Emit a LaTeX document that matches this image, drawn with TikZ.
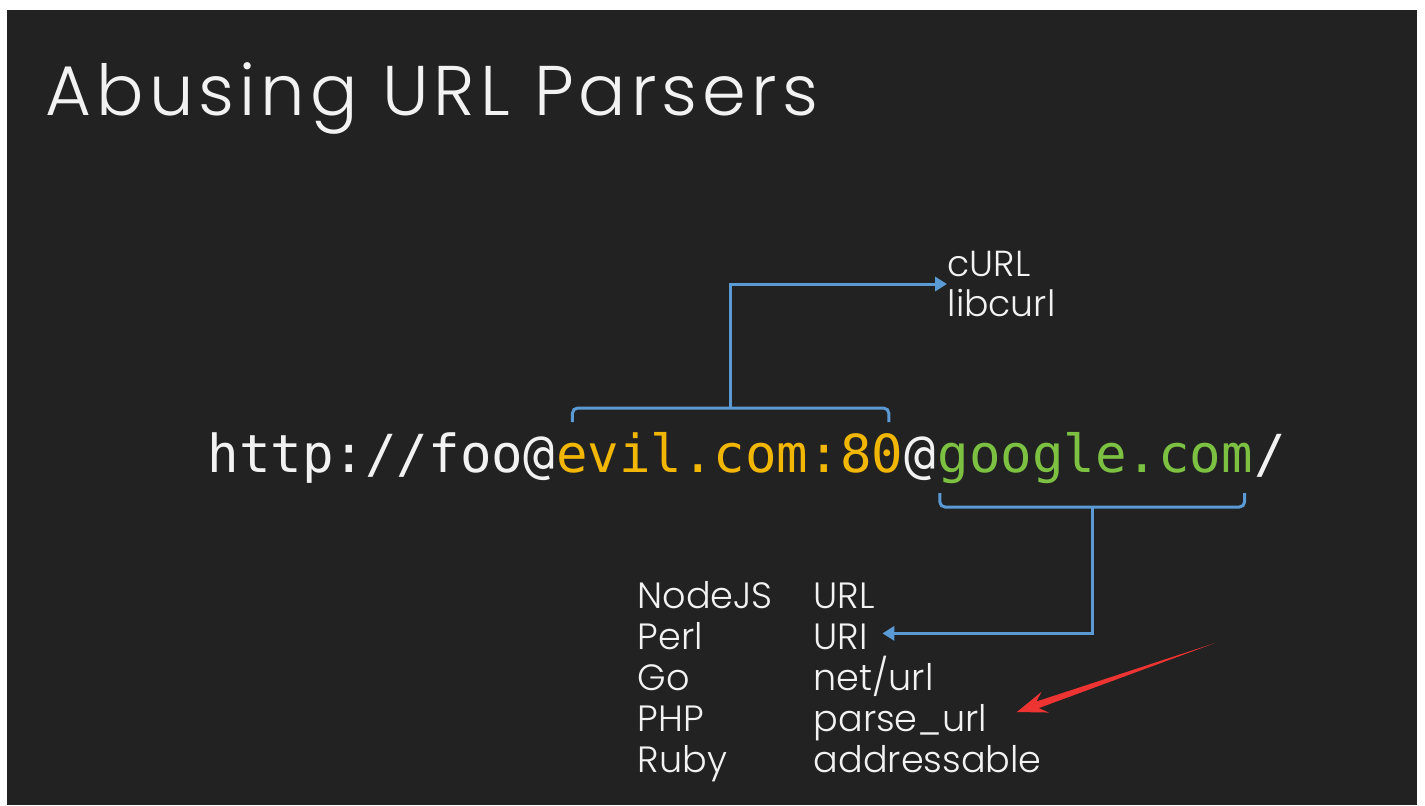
\documentclass[tikz,border=0pt]{standalone}
\usepackage{fontspec}
\IfFontExistsTF{Poppins Light}{\setmainfont{Poppins Light}}{\setmainfont{Poppins}}
\setmonofont{DejaVu Sans Mono}
\usetikzlibrary{calc,arrows.meta}
\definecolor{slidebg}{HTML}{222222}
\definecolor{slidetext}{HTML}{F2F2F2}
\definecolor{evilorange}{HTML}{F2B705}
\definecolor{googlegreen}{HTML}{7CC142}
\definecolor{linkblue}{HTML}{5B9BD5}
\definecolor{markred}{HTML}{EE3333}
\begin{document}
\begin{tikzpicture}[x=0.01cm,y=-0.01cm,
  every node/.style={inner sep=0pt, text=slidetext},
  urlpart/.style={anchor=base west, font=\ttfamily\fontsize{14.9}{18}\selectfont},
  item/.style={anchor=base west, font=\fontsize{10.4}{12}\selectfont},
  bracket/.style={draw=linkblue, line width=0.85pt, rounded corners=1.5pt},
  link/.style={draw=linkblue, line width=0.85pt, -{Triangle[length=3.4pt,width=4pt]}}]
\useasboundingbox (0,0) rectangle (1425,805);
\fill[white] (0,0) rectangle (1425,805);
\fill[slidebg] (7,10) rectangle (1417,805);
% title
\node[anchor=base west, font=\fontsize{20}{24}\selectfont\addfontfeatures{LetterSpace=7.2}] (title) at (45,115) {Abusing URL Parsers};
% url
\node[urlpart] (proto) at (207,472) {http://foo@};
\node[urlpart, text=evilorange] (evil) at (proto.base east) {evil.com:80};
\node[urlpart] (at) at (evil.base east) {@};
\node[urlpart, text=googlegreen] (google) at (at.base east) {google.com};
\node[urlpart] (slash) at (google.base east) {/};
% parsers
\node[anchor=west, align=left, font=\fontsize{10.3}{11.1}\selectfont] (curl) at (947,284) {cURL\\libcurl};
\foreach \lang/\lib [count=\i] in {NodeJS/URL, Perl/URI, Go/{net/url}, PHP/parse\_url, Ruby/addressable} {
  \node[item] (lang-\i) at (637,567+41*\i) {\lang};
  \node[item] (lib-\i) at (813,567+41*\i) {\lib};
}
%%%%%%%%%%%%%%%%
\coordinate (evilL) at ($(evil.base west)+(17,-50)$);
\coordinate (evilR) at ($(evil.base east)+(-15,-50)$);
\coordinate (googleL) at ($(google.base west)+(3,21)$);
\coordinate (googleR) at ($(google.base east)+(-9,21)$);
\draw[bracket] (evilL) -- ++(0,-14) -| (evilR);
\draw[bracket] (googleL) -- ++(0,14) -| (googleR);
\draw[link] ($(evilL)!0.5!(evilR)+(0,-14)$) |- (curl.west);
\draw[link] ($(googleL)!0.5!(googleR)+(0,14)$) |- ($(lib-2.east)+(14,-3)$);
% red marker
\coordinate (redtail) at (1215,643);
\coordinate (redtip) at ($(lib-4.base east)+(29,-19)$);
\coordinate (rneck) at ($(redtip)!0.22cm!(redtail)$);
\coordinate (rbarb) at ($(redtip)!0.30cm!(redtail)$);
\fill[markred] (redtail) -- ($(rneck)!0.035cm!90:(redtail)$) -- ($(rbarb)!0.11cm!90:(redtail)$) -- (redtip)
  -- ($(rbarb)!0.11cm!-90:(redtail)$) -- ($(rneck)!0.035cm!-90:(redtail)$) -- cycle;
\end{tikzpicture}
\end{document}
